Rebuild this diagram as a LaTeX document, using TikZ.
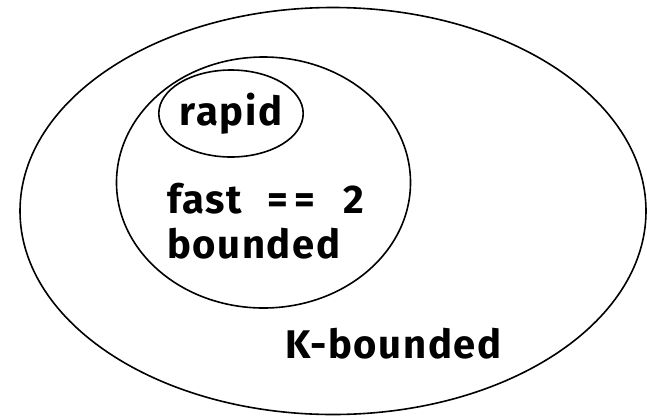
\documentclass[tikz,border=0pt]{standalone}
\usepackage{fontspec}
\setmainfont{Fira Sans}
\usepackage{tikz}
\usetikzlibrary{positioning, shapes.geometric}

\begin{document}
\begin{tikzpicture}[
  x=1pt, y=-1pt,
  set/.style   = {ellipse, draw, line width=1.6pt, inner sep=0pt},
  setfont/.style = {font=\fontsize{40}{45}\selectfont\bfseries\addfontfeature{LetterSpace=4}},
  label/.style = {anchor=base west, inner sep=0pt, setfont},
]
\useasboundingbox (0,0) rectangle (647,416);

% Sets
\node[set, minimum width=626pt, minimum height=407pt] (kbound) at (333,211) {};
\node[set, minimum width=294pt, minimum height=251pt] (fast)   at (263.5,182.5) {};
\node[set, setfont, minimum width=138pt, minimum height=87pt] (rapid) at (231,113.5) {rapid};

% Labels
\node[label] (fastlbl)  at (167,213) {fast\hspace{26pt}=\kern6pt=\hspace{28pt}2};
\node[label, below=45pt of fastlbl.base west, anchor=base west] (boundlbl) {bounded};
\node[label] (kboundlbl) at (285,358) {K-bounded};
\end{tikzpicture}
\end{document}
